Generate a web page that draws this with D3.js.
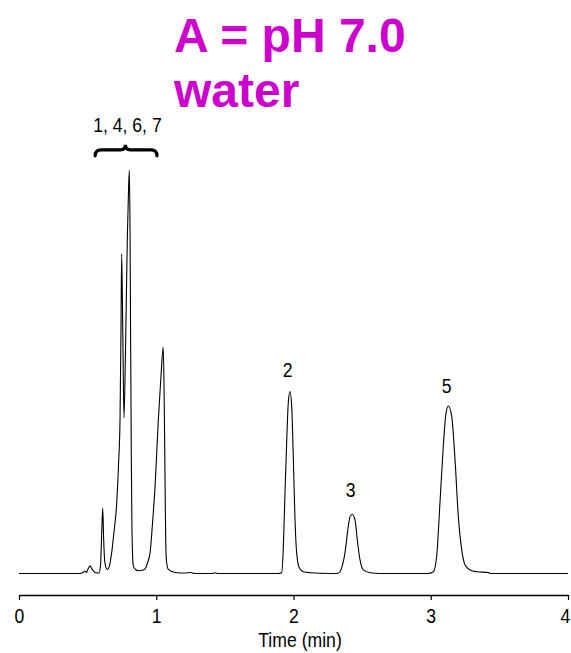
<!DOCTYPE html>
<html>
<head>
<meta charset="utf-8">
<title>Chromatogram - pH 7.0 water</title>
<script src="https://cdn.jsdelivr.net/npm/d3@7"></script>
<style>
  body { margin: 0; background: #fff; }
  svg { display: block; }
  .small { font-family: 'Liberation Sans', Arial, sans-serif; font-size: 21px; fill: #000; }
  .title { font-family: 'Liberation Sans', Arial, sans-serif; font-weight: bold; font-size: 48px; fill: #cc00cc; }
</style>
</head>
<body>
<svg id="chart" width="571" height="653"></svg>
<script>
'use strict';

// trace: time in min, signal in % of the tallest peak
const times = [
  0, 0.299, 0.444, 0.466, 0.481, 0.492, 0.503, 0.517, 0.532, 0.554,
  0.583, 0.594, 0.601, 0.610, 0.617, 0.625, 0.643, 0.659, 0.675, 0.692,
  0.712, 0.725, 0.736, 0.743, 0.748, 0.756, 0.765, 0.776, 0.789, 0.798,
  0.804, 0.809, 0.813, 0.818, 0.823, 0.833, 0.849, 0.869, 0.896, 0.918,
  0.936, 0.955, 0.973, 0.991, 1.015, 1.035, 1.051, 1.058, 1.064, 1.069,
  1.075, 1.088, 1.137, 1.209, 1.246, 1.282, 1.406, 1.428, 1.450, 1.887,
  1.914, 1.926, 1.938, 1.950, 1.962, 1.974, 1.987, 1.999, 2.011, 2.023,
  2.042, 2.071, 2.120, 2.266, 2.324, 2.339, 2.375, 2.399, 2.412, 2.428,
  2.448, 2.465, 2.485, 2.509, 2.557, 2.630, 2.980, 3.019, 3.043, 3.067,
  3.091, 3.111, 3.128, 3.153, 3.177, 3.201, 3.226, 3.250, 3.286, 3.335,
  3.420, 3.432, 4.0
];
const signal = [
  0, 0, 0, 0.25, 0.62, 0.25, 1.1, 1.9, 1.1, 0.25,
  0.12, 2.1, 8.3, 16.2, 8.3, 2.9, 1.0, 1.9, 5.1, 10.3,
  17.5, 26.9, 38.0, 60.3, 79.2, 60.3, 38.5, 55.4, 82.7, 95.0,
  100, 85.1, 60.3, 30.6, 10.8, 1.9, 1.0, 0.7, 0.8, 1.1,
  2.6, 5.1, 12.5, 21.4, 38.0, 49.2, 56.1, 43.0, 23.2, 8.3,
  2.9, 1.0, 0.25, 0.12, 0.25, 0, 0, 0.17, 0, 0,
  0.2, 6.6, 20.0, 32.3, 42.3, 45.1, 41.3, 28.1, 13.3, 5.1,
  1.4, 0.45, 0.2, 0, 0.05, 0.45, 5.1, 11.6, 14.1, 14.7,
  13.3, 8.3, 3.3, 0.9, 0.2, 0, 0, 0.45, 4.2, 17.4,
  31.4, 39.7, 41.5, 38.9, 28.1, 14.1, 5.8, 2.1, 0.87, 0.45,
  0.25, 0, 0
];

// peak labels
const peakNames = ['2', '3', '5'];
const peakTimes = [1.958, 2.417, 3.116];
const peakLabelSignal = [48.7, 19.0, 44.7];

// bracketed group of co-eluting peaks
const groupName = '1, 4, 6, 7';
const groupSpan = [0.555, 1.005];
const groupTip = 0.775;
const groupSignal = 105;

const tickValues = [0, 1, 2, 3, 4];
const titleLines = ['A = pH 7.0', 'water'];
const xLabel = 'Time (min)';

// the original uses a condensed face, squeeze the regular one instead
const narrow = 0.84;

const svg = d3.select('#chart');

const x = d3.scaleLinear().domain([0, 4]).range([19, 568]);
const y = d3.scaleLinear().domain([0, 100]).range([573.5, 170]);

const points = times.map((t, i) => [t, signal[i]]);

const line = d3.line()
  .x(d => x(d[0]))
  .y(d => y(d[1]))
  .curve(d3.curveMonotoneX);

svg.append('path')
  .datum(points)
  .attr('d', line)
  .attr('fill', 'none')
  .attr('stroke', '#000')
  .attr('stroke-width', 1.1)
  .attr('stroke-linejoin', 'round');

function smallText (px, py, str) {
  return svg.append('text')
    .attr('class', 'small')
    .attr('text-anchor', 'middle')
    .attr('transform', `translate(${px},${py}) scale(${narrow},1)`)
    .text(str);
}

// x axis
const axis = svg.append('g')
  .attr('transform', 'translate(0,595)')
  .call(d3.axisBottom(x).tickValues(tickValues).tickFormat(d3.format('d'))
    .tickSize(5).tickSizeOuter(0).tickPadding(8));
axis.attr('font-size', null).attr('font-family', null);
axis.select('.domain').attr('stroke-width', 1.4);
axis.selectAll('.tick line').attr('stroke-width', 1.2);
axis.selectAll('.tick text')
  .attr('class', 'small')
  .attr('x', d => d === 4 ? -3 / narrow : 0)
  .attr('transform', `scale(${narrow},1)`);

smallText(300, 647, xLabel);

// peak numbers
peakNames.forEach((name, i) => {
  smallText(x(peakTimes[i]), y(peakLabelSignal[i]), name);
});

// curly brace over the first cluster
const bx0 = x(groupSpan[0]);
const bx1 = x(groupSpan[1]);
const bm = x(groupTip);
const by = y(groupSignal);
const brace = `M${bx0},${by + 6} Q${bx0},${by} ${bx0 + 6},${by}` +
  ` L${bm - 5},${by} Q${bm},${by} ${bm},${by - 5}` +
  ` Q${bm},${by} ${bm + 5},${by} L${bx1 - 6},${by}` +
  ` Q${bx1},${by} ${bx1},${by + 6}`;
svg.append('path')
  .attr('d', brace)
  .attr('fill', 'none')
  .attr('stroke', '#000')
  .attr('stroke-width', 3.2)
  .attr('stroke-linecap', 'round');

smallText(x(0.79), y(109.5), groupName);

// title
svg.selectAll('.title')
  .data(titleLines)
  .join('text')
  .attr('class', 'title')
  .attr('x', 174)
  .attr('y', (d, i) => 52 + i * 55)
  .text(d => d);
</script>
</body>
</html>
